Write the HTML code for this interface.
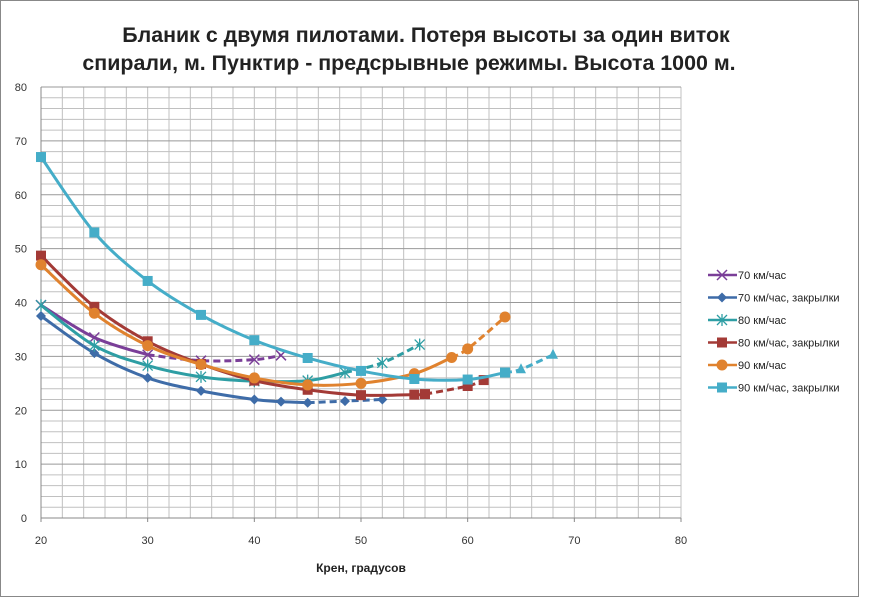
<!DOCTYPE html>
<html><head><meta charset="utf-8"><style>
body{margin:0;background:#fff;}
svg{display:block;font-family:"Liberation Sans",sans-serif;}
</style></head><body>
<svg id="s" width="877" height="611" xmlns="http://www.w3.org/2000/svg">
<rect x="0.5" y="0.5" width="858" height="596" fill="#fff" stroke="#888"/>
<text x="426" y="42" text-anchor="middle" font-size="21.4" font-weight="bold" fill="#222">Бланик с двумя пилотами. Потеря высоты за один виток</text>
<text x="409" y="70" text-anchor="middle" font-size="21.4" font-weight="bold" fill="#222">спирали, м. Пунктир - предсрывные режимы. Высота 1000 м.</text>
<g id="grid"></g>
<g id="series"></g>
<text x="361" y="572" text-anchor="middle" font-size="12" font-weight="bold" fill="#222">Крен, градусов</text>
<g id="legend" font-size="11" fill="#222"></g>
</svg>
<script>
const NS="http://www.w3.org/2000/svg";
const X=x=>41+(x-20)*640/60, Y=y=>518-y*431/80;
const g=document.getElementById('grid'),sr=document.getElementById('series'),lg=document.getElementById('legend');
function el(p,t,a){const e=document.createElementNS(NS,t);for(const k in a)e.setAttribute(k,a[k]);p.appendChild(e);return e;}
for(let x=20;x<=80;x+=2)el(g,'line',{x1:X(x),x2:X(x),y1:Y(0),y2:Y(80),stroke:'#c0c0c0','stroke-width':1});
for(let y=0;y<=80;y+=2)el(g,'line',{x1:X(20),x2:X(80),y1:Y(y),y2:Y(y),stroke:(y%10?'#c0c0c0':'#999'),'stroke-width':1});
el(g,'line',{x1:X(20),x2:X(80),y1:Y(0),y2:Y(0),stroke:'#888'});
el(g,'line',{x1:X(20),x2:X(20),y1:Y(0),y2:Y(80),stroke:'#888'});
for(let y=0;y<=80;y+=10){const t=el(g,'text',{x:27,y:Y(y)+4,'text-anchor':'end','font-size':11,fill:'#333'});t.textContent=y;}
for(let x=20;x<=80;x+=10){const t=el(g,'text',{x:X(x),y:544,'text-anchor':'middle','font-size':11,fill:'#333'});t.textContent=x;
 el(g,'line',{x1:X(x),x2:X(x),y1:Y(0),y2:Y(0)+4,stroke:'#888'});}
function path(pts){const p=pts.map(a=>[X(a[0]),Y(a[1])]);let d='M'+p[0];for(let i=0;i<p.length-1;i++){const p0=p[i-1]||p[i],p1=p[i],p2=p[i+1],p3=p[i+2]||p2;
 const c1=[p1[0]+(p2[0]-p0[0])/6,p1[1]+(p2[1]-p0[1])/6],c2=[p2[0]-(p3[0]-p1[0])/6,p2[1]-(p3[1]-p1[1])/6];d+=' C'+c1+' '+c2+' '+p2;}return d;}
function mark(p,m,x,y,c){switch(m){
 case 'x':el(p,'path',{d:`M${x-5},${y-5}L${x+5},${y+5}M${x-5},${y+5}L${x+5},${y-5}`,stroke:c,'stroke-width':1.5});break;
 case 'star':el(p,'path',{d:`M${x-5},${y-5}L${x+5},${y+5}M${x-5},${y+5}L${x+5},${y-5}M${x},${y-6}L${x},${y+6}`,stroke:c,'stroke-width':1.3});break;
 case 'd':el(p,'path',{d:`M${x},${y-5}L${x+5},${y}L${x},${y+5}L${x-5},${y}Z`,fill:c});break;
 case 'sq':el(p,'rect',{x:x-5,y:y-5,width:10,height:10,fill:c});break;
 case 'o':el(p,'circle',{cx:x,cy:y,r:5.5,fill:c});break;
 case 'tri':el(p,'path',{d:`M${x},${y-6}L${x+5},${y+4}L${x-5},${y+4}Z`,fill:c});break;}}
const S=[
 {n:'70 км/час',c:'#7A3E98',m:'x',s:[[20,39.5],[25,33.5],[30,30.3]],d:[[30,30.3],[35,29.2],[40,29.4],[42.5,30.2]]},
 {n:'70 км/час, закрылки',c:'#3E6CA8',m:'d',s:[[20,37.5],[25,30.6],[30,26],[35,23.6],[40,22],[42.5,21.6],[45,21.4]],d:[[45,21.4],[48.5,21.7],[52,22]]},
 {n:'80 км/час',c:'#2E9EA4',m:'star',s:[[20,39.5],[25,32],[30,28.3],[35,26.2],[40,25.4],[45,25.5],[48.5,27]],d:[[48.5,27],[52,28.8],[55.5,32.2]]},
 {n:'80 км/час, закрылки',c:'#A33A36',m:'sq',s:[[20,48.7],[25,39.2],[30,32.8],[35,28.6],[40,25.5],[45,23.8],[50,22.8],[55,22.9]],d:[[55,22.9],[56,23],[60,24.5],[61.5,25.6]]},
 {n:'90 км/час',c:'#E0822E',m:'o',s:[[20,47],[25,38],[30,32],[35,28.5],[40,26],[45,24.7],[50,25],[55,26.8],[58.5,29.8]],d:[[58.5,29.8],[60,31.4],[63.5,37.3]]},
 {n:'90 км/час, закрылки',c:'#45ADC8',m:'sq',s:[[20,67],[25,53],[30,44],[35,37.7],[40,33],[45,29.7],[50,27.3],[55,25.8],[60,25.7],[63.5,27]],d:[[63.5,27],[65,27.6],[68,30.3]],dm:'tri'}];
S.forEach((o,i)=>{
 el(sr,'path',{d:path(o.s),fill:'none',stroke:o.c,'stroke-width':3});
 el(sr,'path',{d:path(o.d),fill:'none',stroke:o.c,'stroke-width':3,'stroke-dasharray':'7,4'});
 o.s.forEach(p=>mark(sr,o.m,X(p[0]),Y(p[1]),o.c));
 o.d.slice(1).forEach(p=>mark(sr,o.dm||o.m,X(p[0]),Y(p[1]),o.c));
 const ly=275+i*22.5;
 el(lg,'line',{x1:708,x2:737,y1:ly,y2:ly,stroke:o.c,'stroke-width':2.5});
 mark(lg,o.m,722,ly,o.c);
 const t=el(lg,'text',{x:738,y:ly+4});t.textContent=o.n;
});
</script>
</body></html>
